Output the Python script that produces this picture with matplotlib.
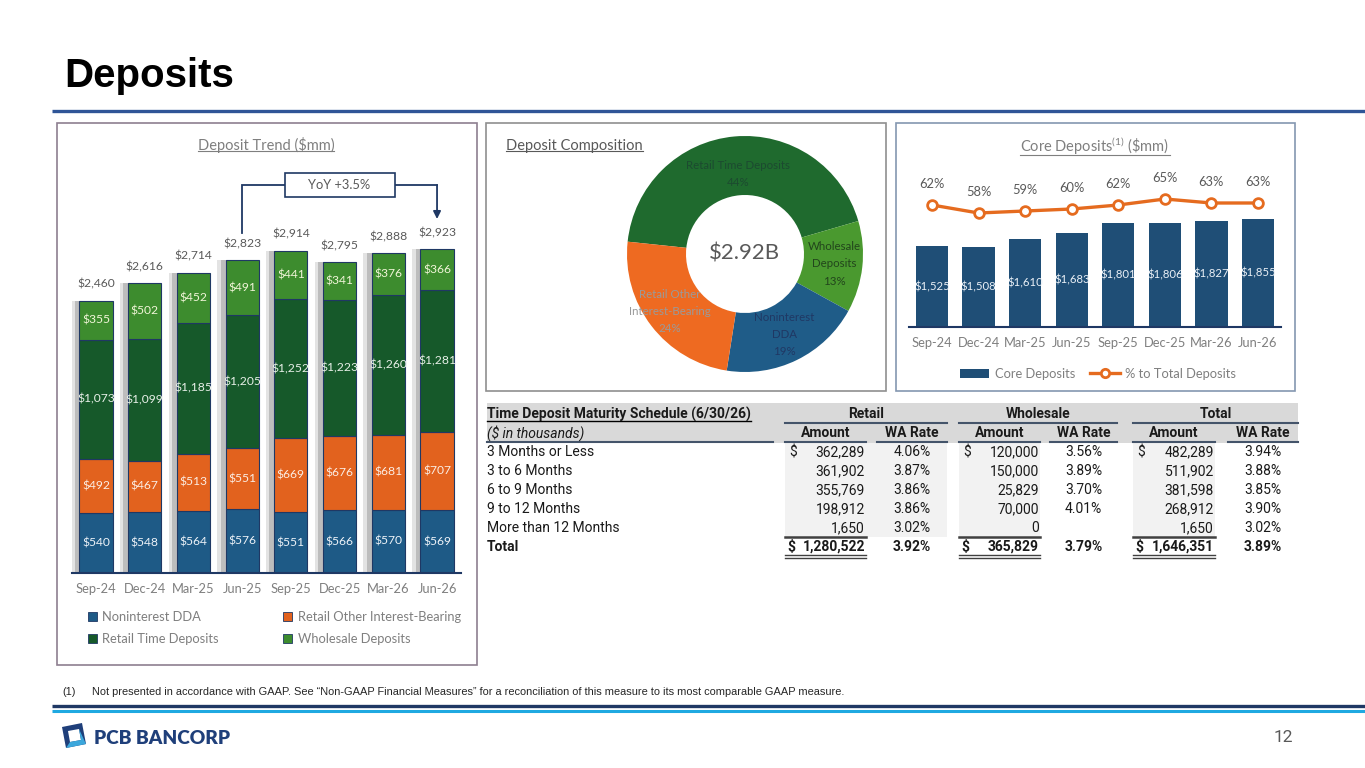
import matplotlib
matplotlib.use('Agg')
import matplotlib.pyplot as plt
from matplotlib.patches import Rectangle, Polygon, Patch
from matplotlib.lines import Line2D
import numpy as np

W, H = 1365, 768
plt.rcParams['font.family'] = ['Lato', 'DejaVu Sans']
plt.rcParams['text.parse_math'] = False
plt.rcParams['mathtext.fontset'] = 'custom'
plt.rcParams['mathtext.rm'] = 'Lato'

# ---------------- data ----------------
quarters = ['Sep-24', 'Dec-24', 'Mar-25', 'Jun-25', 'Sep-25', 'Dec-25', 'Mar-26', 'Jun-26']
nonint_dda = [540, 548, 564, 576, 551, 566, 570, 569]
retail_other = [492, 467, 513, 551, 669, 676, 681, 707]
retail_time = [1073, 1099, 1185, 1205, 1252, 1223, 1260, 1281]
wholesale = [355, 502, 452, 491, 441, 341, 376, 366]
totals = [2460, 2616, 2714, 2823, 2914, 2795, 2888, 2923]
series_names = ['Noninterest DDA', 'Retail Other Interest-Bearing', 'Retail Time Deposits', 'Wholesale Deposits']

core_deposits = [1525, 1508, 1610, 1683, 1801, 1806, 1827, 1855]
core_pct = [62, 58, 59, 60, 62, 65, 63, 63]

donut_labels = ['Retail Time Deposits', 'Wholesale\nDeposits', 'Noninterest\nDDA', 'Retail Other\nInterest-Bearing']

maturity_buckets = ['3 Months or Less', '3 to 6 Months', '6 to 9 Months', '9 to 12 Months', 'More than 12 Months']
retail_amt = [362289, 361902, 355769, 198912, 1650]
retail_rate = [4.06, 3.87, 3.86, 3.86, 3.02]
wholesale_amt = [120000, 150000, 25829, 70000, 0]
wholesale_rate = [3.56, 3.89, 3.70, 4.01, None]
total_amt = [482289, 511902, 381598, 268912, 1650]
total_rate = [3.94, 3.88, 3.85, 3.90, 3.02]
total_row_amt = [1280522, 365829, 1646351]
total_row_rate = [3.92, 3.79, 3.89]

# ---------------- styles ----------------
NAVY = '#1F3864'
C_DDA = '#1E5A86'
C_OTHER = '#E2621E'
C_TIME = '#16592A'
C_WHOLE = '#3D8C2E'
C_CORE = '#1F4E76'
C_LINE = '#E56B1F'
GRAY_T = '#595959'
GRAY_L = '#7F7F7F'

fig = plt.figure(figsize=(W / 100, H / 100), dpi=100)


def px_axes(x0, y0, x1, y1, **kw):
    ax = fig.add_axes([x0 / W, 1 - y1 / H, (x1 - x0) / W, (y1 - y0) / H], **kw)
    ax.patch.set_alpha(0)
    return ax


bg = px_axes(0, 0, W, H)
bg.set_xlim(0, W)
bg.set_ylim(H, 0)
bg.axis('off')

# title + rules
bg.text(64, 87, 'Deposits', fontsize=29, fontweight='bold', family=['Liberation Sans', 'DejaVu Sans'],
        va='baseline', ha='left', color='black')
bg.plot([52, W], [111, 111], color='#2F5597', lw=2.4, solid_capstyle='butt')

# panels
bg.add_patch(Rectangle((57, 123), 420, 542, fill=False, ec='#8E7F90', lw=1.2))
bg.add_patch(Rectangle((486, 123), 400, 268, fill=False, ec='#8F8F8F', lw=1.2))
bg.add_patch(Rectangle((896, 123), 399, 268, fill=False, ec='#8497B0', lw=1.2))

underline = []

# ---------------- left: deposit trend ----------------
underline.append(bg.text(266, 145, 'Deposit Trend ($mm)', fontsize=10.5, color=GRAY_L, ha='center', va='center'))

SC1 = 0.1107
ax1 = px_axes(71.6, 200, 461.4, 573)
x = np.arange(len(quarters))
ax1.set_xlim(-0.5, len(quarters) - 0.5)
ax1.set_ylim(0, 373 / SC1)
stack_top = np.array(nonint_dda) + np.array(retail_other) + np.array(retail_time) + np.array(wholesale)
ax1.bar(x - 0.17, stack_top, width=0.68, color='#E3E3E3', zorder=1)
ax1.bar(x - 0.10, stack_top, width=0.68, color='#BDBDBD', zorder=1.1)
bottom = np.zeros(len(quarters))
colors1 = [C_DDA, C_OTHER, C_TIME, C_WHOLE]
txtc = ['#EEF3F8', '#FBEDE4', '#E8F0E8', '#F1F5D8']
for vals, col, tc in zip([nonint_dda, retail_other, retail_time, wholesale], colors1, txtc):
    ax1.bar(x, vals, width=0.68, bottom=bottom, color=col, edgecolor=NAVY, lw=0.8, zorder=2)
    for i, v in enumerate(vals):
        ax1.text(i, bottom[i] + v / 2, f'${v:,}', ha='center', va='center', color=tc, fontsize=8.7, zorder=3)
    bottom += np.array(vals)
for i, t in enumerate(totals):
    ax1.annotate(f'${t:,}', (i, stack_top[i]), xytext=(0, 12), textcoords='offset points',
                 ha='center', va='center', color=GRAY_T, fontsize=8.7)
for s in ['top', 'left', 'right']:
    ax1.spines[s].set_visible(False)
ax1.spines['bottom'].set_color(NAVY)
ax1.spines['bottom'].set_linewidth(1.5)
ax1.set_yticks([])
ax1.set_xticks(x)
ax1.set_xticklabels(quarters)
ax1.tick_params(axis='x', length=0, pad=7, labelsize=9.3, labelcolor=GRAY_L)

# YoY annotation (data coords of ax1)
yoy = (totals[-1] / totals[3] - 1) * 100
y_box = (573 - 185) / SC1
box_w, box_h = 110 / 48.7, 23 / SC1
ax1.add_patch(Rectangle((5 - box_w / 2, y_box - box_h / 2), box_w, box_h, fill=True, fc='white',
                        ec=NAVY, lw=1.2, clip_on=False, zorder=4))
ax1.text(5, y_box, f'YoY +{yoy:.1f}%', ha='center', va='center', fontsize=9.3, color=GRAY_T, zorder=5)
ax1.plot([5 - box_w / 2, 3, 3], [y_box, y_box, (573 - 233) / SC1], color=NAVY, lw=1.3, clip_on=False,
         solid_joinstyle='miter')
ax1.plot([5 + box_w / 2, 7], [y_box, y_box], color=NAVY, lw=1.3, clip_on=False)
ax1.annotate('', xy=(7, (573 - 219) / SC1), xytext=(7, y_box),
             arrowprops=dict(arrowstyle='-|>', color=NAVY, lw=1.3, mutation_scale=11, shrinkA=0, shrinkB=0),
             annotation_clip=False)

handles1 = [Patch(fc=c, ec=NAVY, lw=0.6) for c in colors1]
order = [0, 2, 1, 3]
fig.legend([handles1[k] for k in order], [series_names[k] for k in order], ncol=2, loc='upper left',
           bbox_to_anchor=(88 / W, 1 - 611 / H), frameon=False, fontsize=9.3, handlelength=0.7,
           handleheight=0.7, handletextpad=0.4, columnspacing=5.0, labelspacing=0.8, borderpad=0,
           borderaxespad=0, labelcolor=GRAY_L)

# ---------------- middle: composition donut ----------------
underline.append(bg.text(506, 146, 'Deposit Composition', fontsize=10.5, color=GRAY_T, ha='left', va='center'))
ax2 = px_axes(627, 136, 863, 372)
comp_vals = [retail_time[-1], wholesale[-1], nonint_dda[-1], retail_other[-1]]
comp_cols = ['#1F6A2E', '#4A992F', '#1F5C88', '#EE6A21']
wedges, _ = ax2.pie(comp_vals, colors=comp_cols, startangle=174, counterclock=False,
                    wedgeprops=dict(width=0.5, edgecolor='none'), radius=1)
ax2.set_xlim(-1, 1)
ax2.set_ylim(-1, 1)
ax2.set_aspect('equal')
comp_total = sum(comp_vals)
lab_cols = ['#1C4A30', '#22451C', '#1F3864', '#9A9A9A']
lab_r = [0.68, 0.76, 0.76, 0.80]
for w, lab, v, lc, r in zip(wedges, donut_labels, comp_vals, lab_cols, lab_r):
    ang = np.deg2rad((w.theta1 + w.theta2) / 2)
    ax2.text(r * np.cos(ang), r * np.sin(ang), f'{lab}\n{v / comp_total * 100:.0f}%', ha='center', va='center',
             fontsize=8.3, color=lc, linespacing=1.7)
ax2.text(0, 0, f'${comp_total / 1000:.2f}B', ha='center', va='center', fontsize=16, color=GRAY_T)

# ---------------- right: core deposits ----------------
underline.append(bg.text(1095, 146, r'Core Deposits$^{(1)}$ (\$mm)', fontsize=10.5, color=GRAY_L, ha='center',
                         va='center', parse_math=True))
SC3 = 0.0818
Y0 = 535
ax3 = px_axes(908.7, 160, 1281.3, 327)
ax3.set_xlim(-0.5, len(quarters) - 0.5)
ax3.set_ylim(Y0, Y0 + 167 / SC3)
ax3.bar(x, core_deposits, width=0.69, color=C_CORE, zorder=2)
for i, v in enumerate(core_deposits):
    ax3.text(i, (Y0 + v) / 2, f'${v:,}', ha='center', va='center', color='#EAF0F6', fontsize=8.2, zorder=3)
for s in ['top', 'left', 'right']:
    ax3.spines[s].set_visible(False)
ax3.spines['bottom'].set_color(NAVY)
ax3.spines['bottom'].set_linewidth(1.5)
ax3.set_yticks([])
ax3.set_xticks(x)
ax3.set_xticklabels(quarters)
ax3.tick_params(axis='x', length=0, pad=7, labelsize=9.3, labelcolor=GRAY_L)
ax3b = ax3.twinx()
ax3b.patch.set_alpha(0)
ax3b.set_ylim(62 - (327 - 205) / 2, 62 + (205 - 160) / 2)
ax3b.plot(x, core_pct, color=C_LINE, lw=2.4, marker='o', ms=7, mfc='white', mec=C_LINE, mew=2, zorder=4)
for i, p in enumerate(core_pct):
    ax3b.annotate(f'{p}%', (i, p), xytext=(0, 15), textcoords='offset points', ha='center', va='center',
                  fontsize=9.3, color=GRAY_T)
ax3b.axis('off')
fig.legend([Patch(fc=C_CORE), Line2D([], [], color=C_LINE, lw=2.4, marker='o', ms=6, mfc='white', mec=C_LINE, mew=2)],
           ['Core Deposits', '% to Total Deposits'], ncol=2, loc='center', bbox_to_anchor=(1098 / W, 1 - 374 / H),
           frameon=False, fontsize=9.3, handlelength=2.3, handletextpad=0.4, columnspacing=1.2, borderpad=0,
           labelcolor=GRAY_L)

# ---------------- table ----------------
TF = ['Roboto', 'DejaVu Sans']
TC = '#1A1A1A'
LN = '#44546A'
bg.add_patch(Rectangle((487, 403), 811, 40, fc='#D9D9D9', ec='none'))
for (a, b) in [(785, 947), (959, 1040), (1133, 1215)]:
    bg.add_patch(Rectangle((a, 443), b - a, 94, fc='#F2F2F2', ec='none'))
t_title = bg.text(487, 414, 'Time Deposit Maturity Schedule (6/30/26)', family=TF, fontsize=10, fontweight='bold',
                  color=TC, ha='left', va='center')
groups = [('Retail', 785, 866, 877, 947), ('Wholesale', 959, 1040, 1050, 1117), ('Total', 1133, 1215, 1228, 1298)]
for name, a0, a1, r0, r1 in groups:
    bg.text((a0 + r1) / 2, 414, name, family=TF, fontsize=10, fontweight='bold', color=TC, ha='center', va='center')
    bg.plot([a0, r1], [423, 423], color=LN, lw=1.5)
    bg.text((a0 + a1) / 2, 433, 'Amount', family=TF, fontsize=10, fontweight='bold', color=TC, ha='center', va='center')
    bg.text((r0 + r1) / 2, 433, 'WA Rate', family=TF, fontsize=10, fontweight='bold', color=TC, ha='center', va='center')
    bg.plot([a0, a1], [442, 442], color=LN, lw=1.5)
    bg.plot([r0, r1], [442, 442], color=LN, lw=1.5)
    bg.plot([a0, a1], [537, 537], color='#404040', lw=1.8)
    bg.plot([a0, a1], [555, 555], color='#404040', lw=1.0)
    bg.plot([a0, a1], [558, 558], color='#404040', lw=1.0)
bg.text(487, 433, '($ in thousands)', family=TF, fontsize=10, style='italic', color=TC, ha='left', va='center')
bg.plot([487, 773], [442, 442], color=LN, lw=1.5)

cols_amt = [retail_amt, wholesale_amt, total_amt]
cols_rate = [retail_rate, wholesale_rate, total_rate]
for i, bucket in enumerate(maturity_buckets):
    y = 452 + 19 * i
    bg.text(487, y, bucket, family=TF, fontsize=10, color=TC, ha='left', va='center')
    for g, (name, a0, a1, r0, r1) in enumerate(groups):
        if i == 0:
            bg.text(a0 + 4, y, '$', family=TF, fontsize=10, color=TC, ha='left', va='center')
        bg.text(a1 - 1, y, f'{cols_amt[g][i]:,}', family=TF, fontsize=10, color=TC, ha='right', va='center')
        rv = cols_rate[g][i]
        if rv is not None:
            bg.text((r0 + r1) / 2, y, f'{rv:.2f}%', family=TF, fontsize=10, color=TC, ha='center', va='center')
y = 547
bg.text(487, y, 'Total', family=TF, fontsize=10, fontweight='bold', color=TC, ha='left', va='center')
for g, (name, a0, a1, r0, r1) in enumerate(groups):
    bg.text(a0 + 2, y, '$', family=TF, fontsize=10, fontweight='bold', color=TC, ha='left', va='center')
    bg.text(a1 - 1, y, f'{total_row_amt[g]:,}', family=TF, fontsize=10, fontweight='bold', color=TC, ha='right', va='center')
    bg.text((r0 + r1) / 2, y, f'{total_row_rate[g]:.2f}%', family=TF, fontsize=10, fontweight='bold', color=TC,
            ha='center', va='center')

# ---------------- footer ----------------
FF = ['Liberation Sans', 'DejaVu Sans']
bg.text(62, 692, '(1)', family=FF, fontsize=7.9, color='#262626', ha='left', va='center')
bg.text(92, 692, 'Not presented in accordance with GAAP. See \u201cNon-GAAP Financial Measures\u201d for a reconciliation '
        'of this measure to its most comparable GAAP measure.', family=FF, fontsize=7.9, color='#262626',
        ha='left', va='center')
bg.plot([52, W], [705.5, 705.5], color=NAVY, lw=2.4, solid_capstyle='butt')
bg.plot([52, W], [710.8, 710.8], color='#1FA9E1', lw=2.2, solid_capstyle='butt')
# logo
bg.add_patch(Polygon([(62, 727), (82, 723), (86, 744), (66, 748)], closed=True, fc='#1F3F7A', ec='none'))
bg.add_patch(Polygon([(68, 731), (79, 729), (81, 740), (70, 742)], closed=True, fc='white', ec='none'))
bg.add_patch(Polygon([(70, 742), (81, 740), (79, 729), (86, 744), (66, 748)], closed=True, fc='#3BA7DC', ec='none'))
bg.text(94, 738, 'PCB BANCORP', family=['Lato', 'DejaVu Sans'], fontsize=13.8, fontweight='heavy', color='#1F3F7A',
        ha='left', va='center')
bg.text(1293, 738, '12', family=['Roboto', 'DejaVu Sans'], fontsize=12.5, color=GRAY_T, ha='right', va='center')

# underlines
fig.canvas.draw()
rend = fig.canvas.get_renderer()
for t in underline:
    bb = t.get_window_extent(rend)
    yy = (bb.y0 + 2) / H
    fig.add_artist(Line2D([bb.x0 / W, bb.x1 / W], [yy, yy], transform=fig.transFigure, color=t.get_color(), lw=0.8))
bb = t_title.get_window_extent(rend)
yy = (bb.y0 + 0.5) / H
fig.add_artist(Line2D([bb.x0 / W, bb.x1 / W], [yy, yy], transform=fig.transFigure, color='black', lw=1.0))

fig.savefig('out.png', dpi=100)
